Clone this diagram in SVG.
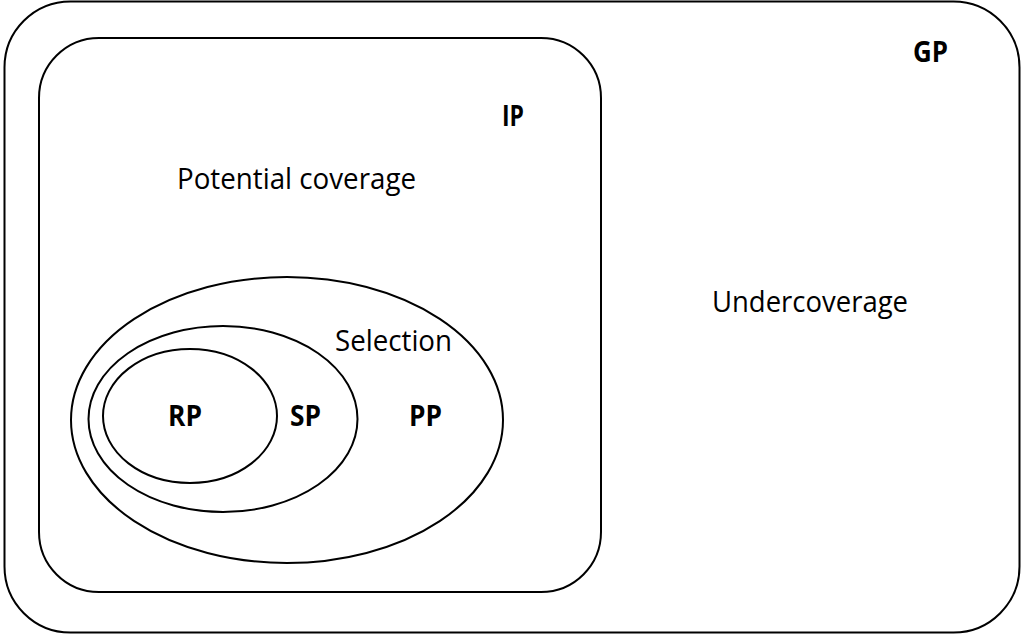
<svg xmlns="http://www.w3.org/2000/svg" width="1023" height="636" viewBox="0 0 1023 636">
<style>
.s{fill:none;stroke:#000;stroke-width:2}
text{font-family:"Open Sans","Liberation Sans",sans-serif;font-size:28.5px;fill:#000}
.b{font-weight:bold}
</style>
<rect width="1023" height="636" fill="#fff"/>
<g id="GP">
<rect class="s" x="4.5" y="1.5" width="1015" height="631" rx="66" ry="66"/>
<text class="b" x="913" y="62" textLength="35" lengthAdjust="spacingAndGlyphs">GP</text>
<text x="712" y="312" textLength="196" lengthAdjust="spacingAndGlyphs">Undercoverage</text>
</g>
<g id="IP">
<rect class="s" x="39" y="38" width="562" height="554" rx="60" ry="60"/>
<text class="b" x="502" y="126" textLength="22" lengthAdjust="spacingAndGlyphs">IP</text>
<text x="177" y="189" textLength="239" lengthAdjust="spacingAndGlyphs">Potential coverage</text>
</g>
<g id="PP">
<ellipse class="s" cx="287" cy="420" rx="216" ry="143"/>
<text class="b" x="409" y="426" textLength="33" lengthAdjust="spacingAndGlyphs">PP</text>
<text x="335" y="351" textLength="117" lengthAdjust="spacingAndGlyphs">Selection</text>
</g>
<g id="SP">
<ellipse class="s" cx="223" cy="419" rx="134.5" ry="93"/>
<text class="b" x="290" y="426" textLength="31" lengthAdjust="spacingAndGlyphs">SP</text>
</g>
<g id="RP">
<ellipse class="s" cx="190" cy="416" rx="87" ry="67"/>
<text class="b" x="168" y="426" textLength="34" lengthAdjust="spacingAndGlyphs">RP</text>
</g>
<g id="connectors"/>
</svg>
